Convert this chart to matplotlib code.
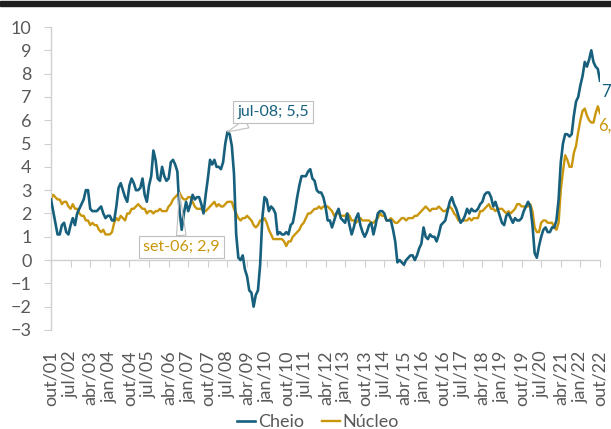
import pandas as pd
import matplotlib.pyplot as plt
from matplotlib.patches import Rectangle

plt.rcParams['font.family'] = ['Lato', 'DejaVu Sans']

# inflacao ao ano (%), mensal de out/01 ate out/22
cheio = [
    2.6, 2.1, 1.6,                                                   # 2001
    1.1, 1.1, 1.5, 1.6, 1.2, 1.1, 1.5, 1.8, 1.5, 2.0, 2.2, 2.4,      # 2002
    2.6, 3.0, 3.0, 2.2, 2.1, 2.1, 2.1, 2.2, 2.3, 2.0, 1.8, 1.9,      # 2003
    1.9, 1.7, 1.7, 2.3, 3.1, 3.3, 3.0, 2.7, 2.5, 3.2, 3.5, 3.3,      # 2004
    3.0, 3.0, 3.1, 3.5, 2.8, 2.5, 3.2, 3.6, 4.7, 4.3, 3.5, 3.4,      # 2005
    4.0, 3.6, 3.4, 3.5, 4.2, 4.3, 4.1, 3.8, 2.1, 1.3, 2.0, 2.5,      # 2006
    2.1, 2.4, 2.8, 2.6, 2.7, 2.7, 2.4, 2.0, 2.8, 3.5, 4.3, 4.1,      # 2007
    4.3, 4.0, 4.0, 3.9, 4.2, 5.0, 5.5, 5.4, 4.9, 3.7, 1.1, 0.1,      # 2008
    0.0, 0.2, -0.4, -0.7, -1.3, -1.4, -2.0, -1.5, -1.3, -0.2, 1.8, 2.7,  # 2009
    2.6, 2.1, 2.3, 2.2, 2.0, 1.1, 1.2, 1.1, 1.1, 1.2, 1.1, 1.5,      # 2010
    1.6, 2.1, 2.7, 3.2, 3.6, 3.6, 3.6, 3.8, 3.9, 3.5, 3.4, 3.0,      # 2011
    2.9, 2.9, 2.7, 2.3, 1.7, 1.7, 1.4, 1.7, 2.0, 2.2, 1.8, 1.7,      # 2012
    1.6, 2.0, 1.5, 1.1, 1.4, 1.8, 2.0, 1.5, 1.2, 1.0, 1.2, 1.5,      # 2013
    1.6, 1.1, 1.5, 2.0, 2.1, 2.1, 2.0, 1.7, 1.7, 1.7, 1.3, 0.8,      # 2014
    -0.1, 0.0, -0.1, -0.2, 0.0, 0.1, 0.2, 0.2, 0.0, 0.2, 0.5, 0.7,   # 2015
    1.4, 1.0, 0.9, 1.1, 1.0, 1.0, 0.8, 1.1, 1.5, 1.6, 1.7, 2.1,      # 2016
    2.5, 2.7, 2.4, 2.2, 1.9, 1.6, 1.7, 1.9, 2.2, 2.0, 2.2, 2.1,      # 2017
    2.1, 2.2, 2.4, 2.5, 2.8, 2.9, 2.9, 2.7, 2.3, 2.5, 2.2, 1.9,      # 2018
    1.6, 1.5, 1.9, 2.0, 1.8, 1.6, 1.8, 1.7, 1.7, 1.8, 2.1, 2.3,      # 2019
    2.5, 2.3, 1.5, 0.3, 0.1, 0.6, 1.0, 1.3, 1.4, 1.2, 1.2, 1.4,      # 2020
    1.4, 1.7, 2.6, 4.2, 5.0, 5.4, 5.4, 5.3, 5.4, 6.2, 6.8, 7.0,      # 2021
    7.5, 7.9, 8.5, 8.3, 8.6, 9.0, 8.5, 8.3, 8.2, 7.7,                # 2022
]

nucleo = [
    2.6, 2.8, 2.7,                                                   # 2001
    2.6, 2.6, 2.4, 2.5, 2.5, 2.3, 2.2, 2.4, 2.2, 2.2, 2.0, 1.9,      # 2002
    1.9, 1.7, 1.7, 1.5, 1.6, 1.5, 1.5, 1.3, 1.2, 1.3, 1.1, 1.1,      # 2003
    1.1, 1.2, 1.6, 1.8, 1.7, 1.9, 1.8, 1.7, 2.0, 2.0, 2.2, 2.2,      # 2004
    2.3, 2.4, 2.3, 2.2, 2.2, 2.0, 2.1, 2.1, 2.0, 2.1, 2.1, 2.2,      # 2005
    2.1, 2.1, 2.1, 2.3, 2.4, 2.6, 2.7, 2.8, 2.9, 2.7, 2.6, 2.6,      # 2006
    2.7, 2.7, 2.5, 2.3, 2.2, 2.2, 2.2, 2.1, 2.1, 2.2, 2.3, 2.4,      # 2007
    2.5, 2.3, 2.4, 2.3, 2.3, 2.4, 2.5, 2.5, 2.5, 2.2, 2.0, 1.8,      # 2008
    1.7, 1.8, 1.8, 1.9, 1.8, 1.7, 1.5, 1.4, 1.5, 1.7, 1.7, 1.8,      # 2009
    1.6, 1.3, 1.1, 0.9, 0.9, 0.9, 0.9, 0.9, 0.8, 0.6, 0.8, 0.8,      # 2010
    1.0, 1.1, 1.2, 1.3, 1.5, 1.6, 1.8, 2.0, 2.0, 2.1, 2.2, 2.2,      # 2011
    2.3, 2.2, 2.3, 2.3, 2.3, 2.2, 2.1, 1.9, 2.0, 2.0, 1.9, 1.9,      # 2012
    1.9, 2.0, 1.9, 1.7, 1.7, 1.6, 1.7, 1.8, 1.7, 1.7, 1.7, 1.7,      # 2013
    1.6, 1.6, 1.7, 1.8, 2.0, 1.9, 1.9, 1.7, 1.7, 1.8, 1.7, 1.6,      # 2014
    1.6, 1.7, 1.8, 1.8, 1.7, 1.8, 1.8, 1.8, 1.9, 1.9, 2.0, 2.1,      # 2015
    2.2, 2.3, 2.2, 2.1, 2.2, 2.2, 2.2, 2.3, 2.2, 2.1, 2.1, 2.2,      # 2016
    2.3, 2.2, 2.0, 1.9, 1.7, 1.7, 1.7, 1.7, 1.7, 1.8, 1.7, 1.8,      # 2017
    1.8, 1.8, 2.1, 2.1, 2.2, 2.3, 2.4, 2.2, 2.2, 2.1, 2.2, 2.2,      # 2018
    2.2, 2.1, 2.0, 2.1, 2.0, 2.1, 2.2, 2.4, 2.4, 2.3, 2.3, 2.3,      # 2019
    2.3, 2.4, 2.1, 1.4, 1.2, 1.2, 1.6, 1.7, 1.7, 1.6, 1.6, 1.6,      # 2020
    1.4, 1.3, 1.6, 3.0, 3.8, 4.5, 4.3, 4.0, 4.0, 4.6, 4.9, 5.5,      # 2021
    6.0, 6.4, 6.5, 6.2, 6.0, 5.9, 5.9, 6.3, 6.6, 6.3,                # 2022
]

meses = ['jan', 'fev', 'mar', 'abr', 'mai', 'jun',
         'jul', 'ago', 'set', 'out', 'nov', 'dez']
datas = pd.date_range('2001-10-01', periods=len(cheio), freq='MS')
rotulos = [meses[d.month - 1] + '/' + d.strftime('%y') for d in datas]

cor_cheio = '#17607D'
cor_nucleo = '#C9960C'
cinza = '#595959'
linha_eixo = '#D0D0D0'

fig = plt.figure(figsize=(6.11, 4.29), dpi=100)
ax = fig.add_axes([51 / 611, 1 - 330 / 429, 549 / 611, 303 / 429])

x = list(range(len(cheio)))
ax.plot(x, cheio, color=cor_cheio, lw=1.9, label='Cheio', zorder=3)
ax.plot(x, nucleo, color=cor_nucleo, lw=1.7, label='Núcleo', zorder=2)

ax.set_xlim(0, len(cheio) - 1)
ax.set_ylim(-3, 10)
ax.set_yticks(range(-3, 11))

ax.set_xticks(x[::9])
ax.set_xticklabels(rotulos[::9])

for s in ['top', 'right']:
    ax.spines[s].set_visible(False)
ax.spines['bottom'].set_position(('data', 0))
ax.spines['bottom'].set_color(linha_eixo)
ax.spines['left'].set_color(linha_eixo)
ax.spines['bottom'].set_linewidth(1.0)
ax.spines['left'].set_linewidth(1.0)

ax.tick_params(axis='y', colors=linha_eixo, labelcolor=cinza, labelsize=13,
               length=5, pad=9)
ax.tick_params(axis='x', colors=linha_eixo, labelcolor=cinza, labelsize=13,
               length=5, pad=60, labelrotation=90)
for t in ax.get_xticklabels():
    t.set_va('top')
    t.set_ha('center')

# rotulos de destaque
i_jul08 = rotulos.index('jul/08')
i_set06 = rotulos.index('set/06')
ax.annotate('jul-08; 5,5', xy=(i_jul08, cheio[i_jul08]), xytext=(102, 6.35),
            color=cor_cheio, fontsize=11.5, ha='center', va='center',
            bbox=dict(boxstyle='square,pad=0.25', fc='white', ec='#BFBFBF', lw=0.8),
            arrowprops=dict(arrowstyle='wedge,tail_width=0.6', fc='none',
                            ec='#BFBFBF', lw=0.8, shrinkA=0, shrinkB=0),
            zorder=5)
ax.annotate('set-06; 2,9', xy=(i_set06, nucleo[i_set06]), xytext=(60, 0.57),
            color=cor_nucleo, fontsize=11.5, ha='center', va='center',
            bbox=dict(boxstyle='square,pad=0.25', fc='white', ec='#BFBFBF', lw=0.8),
            arrowprops=dict(arrowstyle='wedge,tail_width=0.6', fc='none',
                            ec='#BFBFBF', lw=0.8, shrinkA=0, shrinkB=0),
            zorder=5)

# valores finais (cortados na borda)
ax.annotate('7,7', xy=(x[-1], cheio[-1]), xytext=(1, -8), textcoords='offset points',
            color=cor_cheio, fontsize=12, ha='left', va='center')
ax.annotate('6,3', xy=(x[-1], nucleo[-1]), xytext=(-1, -9), textcoords='offset points',
            color=cor_nucleo, fontsize=12, ha='left', va='center')

leg = fig.legend(loc='center', bbox_to_anchor=(318 / 611, 1 - 422 / 429), ncol=2,
                 frameon=False, fontsize=13, handlelength=1.0, handletextpad=0.15,
                 columnspacing=1.0)
for t in leg.get_texts():
    t.set_color(cinza)

fig.patches.append(Rectangle((0, 1 - 6 / 429), 1, 5 / 429, transform=fig.transFigure,
                             color='#1E1E1E', zorder=10))

fig.savefig('out.png', dpi=100)
